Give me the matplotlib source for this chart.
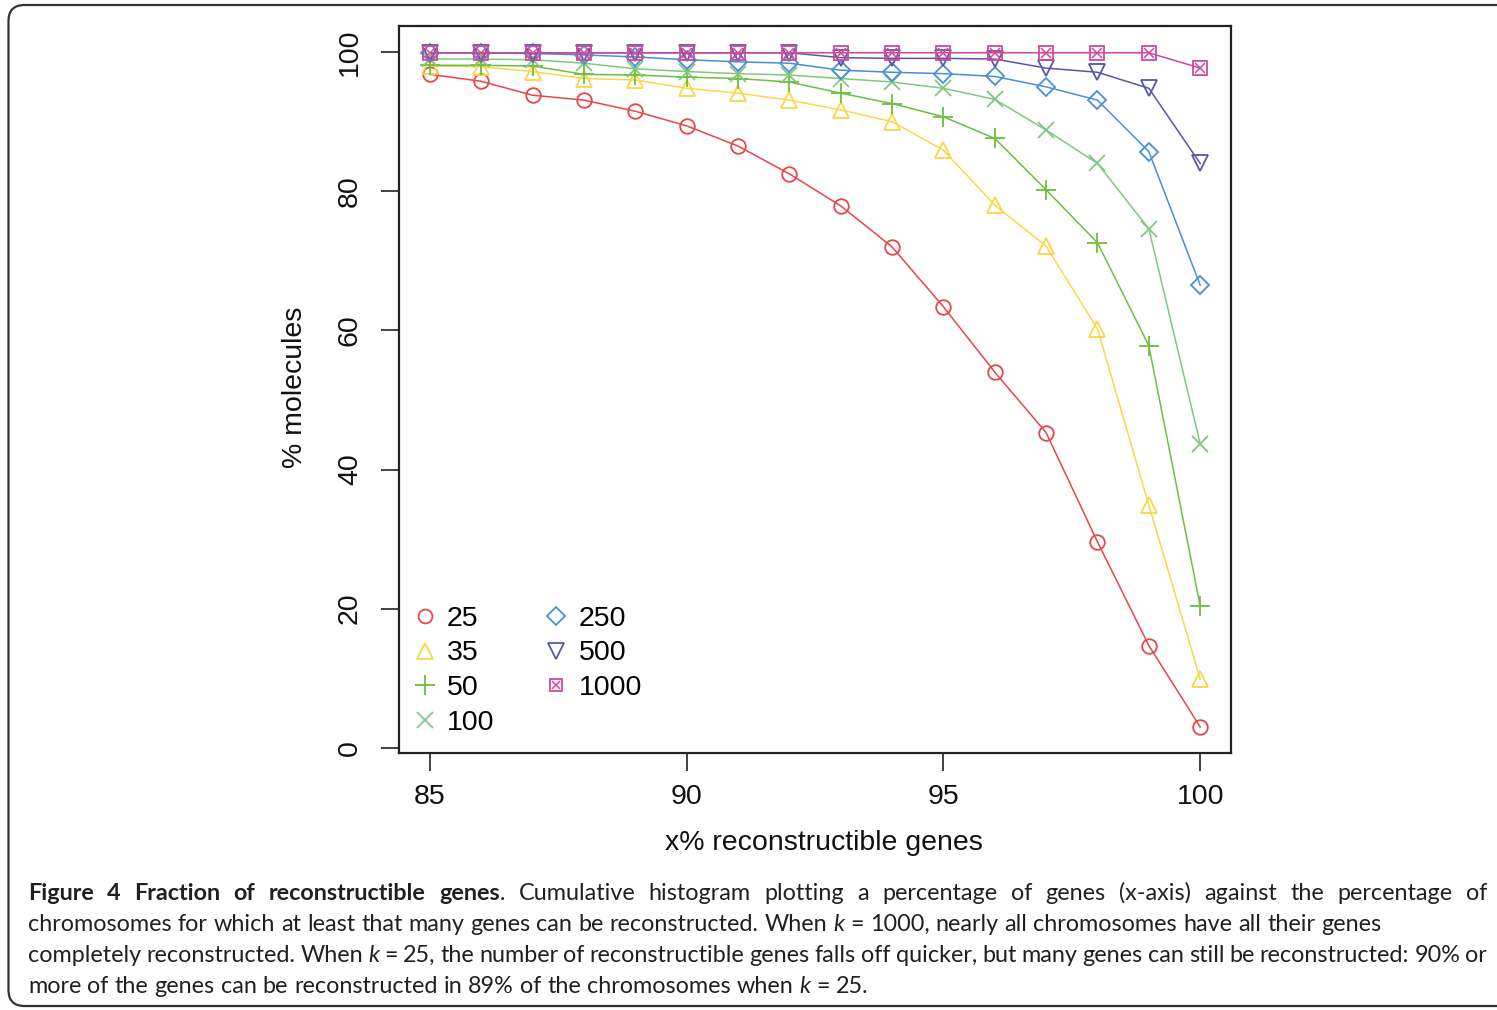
import matplotlib
matplotlib.use('Agg')
import matplotlib.pyplot as plt
from matplotlib.lines import Line2D
from matplotlib.patches import FancyBboxPatch
from matplotlib.transforms import IdentityTransform

# ---------------- data ----------------
x_pct = [85, 86, 87, 88, 89, 90, 91, 92, 93, 94, 95, 96, 97, 98, 99, 100]
k_labels = ["25", "35", "50", "100", "250", "500", "1000"]
k25 = [96.8, 95.8, 93.8, 93.1, 91.5, 89.4, 86.5, 82.5, 77.9, 72.0, 63.4, 54.0, 45.3, 29.6, 14.7, 3.0]
k35 = [98.0, 97.9, 97.2, 96.2, 96.0, 94.8, 94.1, 93.1, 91.7, 90.0, 85.9, 78.0, 72.1, 60.2, 34.9, 9.9]
k50 = [98.1, 98.1, 98.0, 96.8, 96.7, 96.4, 96.2, 95.7, 94.1, 92.6, 90.7, 87.6, 80.2, 72.6, 57.8, 20.4]
k100 = [99.0, 99.0, 98.9, 98.4, 97.6, 97.2, 96.9, 96.7, 96.2, 95.7, 94.8, 93.2, 88.8, 84.0, 74.6, 43.7]
k250 = [99.9, 99.9, 99.8, 99.6, 99.3, 98.9, 98.6, 98.4, 97.4, 97.1, 96.9, 96.5, 95.0, 93.1, 85.7, 66.5]
k500 = [99.9, 99.9, 99.9, 99.9, 99.9, 99.9, 99.9, 99.9, 99.2, 99.1, 99.1, 99.0, 97.7, 97.1, 94.8, 84.0]
k1000 = [99.9, 99.9, 99.9, 99.9, 99.9, 99.9, 99.9, 99.9, 99.9, 99.9, 99.9, 99.9, 99.9, 99.9, 99.9, 97.7]
series = [k25, k35, k50, k100, k250, k500, k1000]

x_ticks = [85, 90, 95, 100]
y_ticks = [0, 20, 40, 60, 80, 100]
x_label = "x% reconstructible genes"
y_label = "% molecules"

# ---------------- styles ----------------
colors = ['#e8464a', '#fbd647', '#6cbf3f', '#80c880', '#4a8fd8', '#5a56a6', '#d1489c']
markers = ['o', '^', '+', 'x', 'D', 'v', 'sx']
msizes = [10.5, 11.5, 15, 11.5, 9.5, 11.5, 10.5]
FS = 20.5

W, H = 1497, 1010
plt.rcParams['font.family'] = ['Liberation Sans', 'DejaVu Sans']
fig = plt.figure(figsize=(W / 100, H / 100), dpi=100)
fig.patch.set_facecolor('white')

ax = fig.add_axes([399 / W, 1 - 753 / H, (1231 - 399) / W, (753 - 26) / H])

handles = []
for vals, c, m, ms in zip(series, colors, markers, msizes):
    if m == 'sx':
        ax.plot(x_pct, vals, color=c, lw=1.1, marker='s', ms=ms, mfc='none', mec=c, mew=1.3)
        ax.plot(x_pct, vals, ls='none', marker='x', ms=ms * 0.75, mec=c, mew=1.1)
        h = (Line2D([], [], ls='none', marker='s', ms=ms * 0.8, mfc='none', mec=c, mew=1.3),
             Line2D([], [], ls='none', marker='x', ms=ms * 0.6, mec=c, mew=1.1))
    else:
        ax.plot(x_pct, vals, color=c, lw=1.1, marker=m, ms=ms, mfc='none', mec=c, mew=1.3)
        h = Line2D([], [], ls='none', marker=m, ms=ms * 0.95, mfc='none', mec=c, mew=1.3)
    handles.append(h)

ax.set_xlim(84.4, 100.6)
ax.set_ylim(-0.75, 103.75)
ax.set_xticks(x_ticks)
ax.set_yticks(y_ticks)
ax.tick_params(length=13, width=1.3, color='#333333', labelsize=FS, labelcolor='#111111')
ax.tick_params(axis='x', pad=9)
ax.tick_params(axis='y', pad=13)
for lab in ax.get_yticklabels():
    lab.set_rotation(90)
    lab.set_va('center')
for sp in ax.spines.values():
    sp.set_linewidth(1.6)
    sp.set_color('#222222')

ax.set_xlabel(x_label, fontsize=FS, color='#111111')
ax.set_ylabel(y_label, fontsize=FS, color='#111111')
ax.xaxis.set_label_coords((824 - 399) / 832, (753 - 843) / 727)
ax.yaxis.set_label_coords((295 - 399) / 832, (753 - 387) / 727)
ax.xaxis.label.set_va('center')
ax.yaxis.label.set_va('center')

ax.legend(handles, k_labels, ncol=2, loc='lower left', bbox_to_anchor=(0.014, 0.024),
          frameon=False, fontsize=FS, handlelength=1.0, handletextpad=0.28,
          columnspacing=1.67, labelspacing=0.3, borderaxespad=0, borderpad=0)

# ---------------- border ----------------
border = FancyBboxPatch((8.5, H - 1006), 1530, 1001, boxstyle="round,pad=0,rounding_size=16",
                        transform=IdentityTransform(), fill=False, lw=1.6, ec='#333333')
fig.add_artist(border)

# ---------------- caption ----------------
cap_family = ['Lato', 'DejaVu Sans']
cap_color = '#231f20'
cap_lines = [
    ([("Figure 4 Fraction of reconstructible genes", 'bold', 'normal'),
      (". Cumulative histogram plotting a percentage of genes (x-axis) against the percentage of", 'normal', 'normal')], True),
    ([("chromosomes for which at least that many genes can be reconstructed. When ", 'normal', 'normal'),
      ("k", 'normal', 'italic'), (" = 1000, nearly all chromosomes have all their genes", 'normal', 'normal')], False),
    ([("completely reconstructed. When ", 'normal', 'normal'), ("k", 'normal', 'italic'),
      (" = 25, the number of reconstructible genes falls off quicker, but many genes can still be reconstructed: 90% or", 'normal', 'normal')], True),
    ([("more of the genes can be reconstructed in 89% of the chromosomes when ", 'normal', 'normal'),
      ("k", 'normal', 'italic'), (" = 25.", 'normal', 'normal')], False),
]
cap_baselines = [900, 931, 962, 993]
cap_x0, cap_x1 = 28, 1487

fig.canvas.draw()
renderer = fig.canvas.get_renderer()


def text_width(s, fs, weight='normal', style='normal'):
    t = fig.text(0, 0, s, fontsize=fs, fontweight=weight, fontstyle=style, family=cap_family)
    w = t.get_window_extent(renderer).width
    t.remove()
    return w


ref_line = "".join(s for s, _, _ in cap_lines[3][0])
cap_fs = 10 * 844 / text_width(ref_line, 10)
space_w = text_width("a a", cap_fs) - text_width("aa", cap_fs)


def build_words(segments):
    words = [[]]
    for text, weight, style in segments:
        parts = text.split(' ')
        for i, p in enumerate(parts):
            if i > 0:
                words.append([])
            if p:
                words[-1].append((p, weight, style))
    return [w for w in words if w]


for (segments, justify), yb in zip(cap_lines, cap_baselines):
    words = build_words(segments)
    placed = []
    total = 0.0
    for w in words:
        pieces = []
        for p, weight, style in w:
            t = fig.text(0, 0, p, fontsize=cap_fs, fontweight=weight, fontstyle=style,
                         family=cap_family, color=cap_color, va='baseline', ha='left')
            pw = t.get_window_extent(renderer).width
            pieces.append((t, pw))
            total += pw
        placed.append(pieces)
    if justify and len(placed) > 1:
        gap = (cap_x1 - cap_x0 - total) / (len(placed) - 1)
    else:
        gap = space_w
    x = cap_x0
    for pieces in placed:
        for t, pw in pieces:
            t.set_position((x / W, 1 - yb / H))
            x += pw
        x += gap

fig.savefig('out.png', dpi=100, facecolor='white')
